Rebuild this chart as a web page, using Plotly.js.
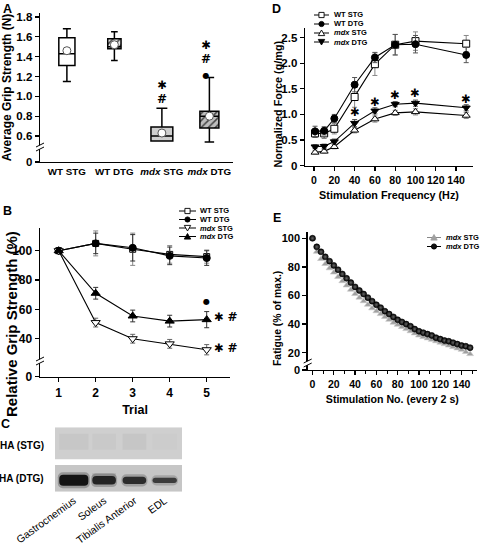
<!DOCTYPE html>
<html><head><meta charset="utf-8">
<script src="https://cdn.plot.ly/plotly-3.0.1.min.js"></script>
<style>html,body{margin:0;padding:0;background:#fff}#chart{width:480px;height:547px}</style>
</head><body><div id="chart"></div>
<script>
// ---------------- DATA ----------------
// Panel A: grip strength box plots (N)
const aGroups = ['WT STG', 'WT DTG', 'mdx STG', 'mdx DTG'];
const aGroupLabels = ['WT STG', 'WT DTG', '<i>mdx</i> STG', '<i>mdx</i> DTG'];
const aLower = [1.15, 1.36, 0.55, 0.54];
const aQ1 = [1.31, 1.48, 0.55, 0.68];
const aMedian = [1.43, 1.50, 0.60, 0.80];
const aQ3 = [1.59, 1.58, 0.69, 0.85];
const aUpper = [1.68, 1.65, 0.88, 1.19];
const aMean = [1.46, 1.52, 0.63, 0.80];
const aYTicks = [0.6, 0.8, 1.0, 1.2, 1.4, 1.6, 1.8];

// Panel B: relative grip strength (%) over trials
const bTrials = [1, 2, 3, 4, 5];
const bWtStg = [100, 105, 101, 97.5, 96];
const bWtStgErr = [0, 8.5, 11, 6, 4.5];
const bWtDtg = [100, 105, 102, 96.5, 95];
const bWtDtgErr = [0, 7, 9, 6, 5];
const bMdxStg = [100, 51, 40, 36.5, 32.5];
const bMdxStgErr = [0, 3, 3, 3, 3.5];
const bMdxDtg = [100, 71, 55.5, 52, 53];
const bMdxDtgErr = [0, 4, 4, 4, 5.5];
const bYTicks = [40, 60, 80, 100];

// Panel C: western blot lanes (relative band intensity)
const cLanes = ['Gastrocnemius', 'Soleus', 'Tibialis Anterior', 'EDL'];
const cDtgBand = [1.0, 0.78, 0.66, 0.47];
const cDtgSmear = [0.1, 0.5, 0.15, 0.05];
const cStgBand = [0.06, 0.04, 0.07, 0.02];

// Panel D: force-frequency
const dFreq = [1, 10, 20, 40, 60, 80, 100, 150];
const dWtStg = [0.63, 0.63, 0.72, 1.34, 1.98, 2.36, 2.43, 2.38];
const dWtStgErr = [0.08, 0.1, 0.1, 0.2, 0.22, 0.2, 0.18, 0.16];
const dWtDtg = [0.67, 0.68, 0.92, 1.58, 2.11, 2.36, 2.37, 2.16];
const dWtDtgErr = [0.1, 0.08, 0.08, 0.14, 0.1, 0.2, 0.17, 0.15];
const dMdxStg = [0.26, 0.28, 0.37, 0.69, 0.91, 1.03, 1.05, 0.98];
const dMdxStgErr = [0.03, 0.03, 0.04, 0.05, 0.06, 0.05, 0.06, 0.06];
const dMdxDtg = [0.37, 0.38, 0.47, 0.83, 1.07, 1.20, 1.22, 1.13];
const dMdxDtgErr = [0.04, 0.04, 0.05, 0.07, 0.06, 0.05, 0.06, 0.06];
const dSigFreq = [40, 60, 80, 100, 150];
const dSigY = [1.05, 1.25, 1.38, 1.41, 1.30];
const dYTicks = [0, 0.5, 1.0, 1.5, 2.0, 2.5];
const dXTicks = [0, 20, 40, 60, 80, 100, 120, 140];

// Panel E: fatigue
const eStim = [0,4,8,12,16,20,24,28,32,36,40,44,48,52,56,60,64,68,72,76,80,84,88,92,96,100,104,108,112,116,120,124,128,132,136,140,144,148];
const eMdxDtg = [100,94,90.5,87,84,81,78,75,72,69,66,63.5,61,58.5,56,53.5,51.5,49,47,45,43,41.5,40,38.5,36.5,35,34,33,32,30.5,29.5,28.5,28,27,26,25,24.5,23.5];
const eMdxStg = [100,90.5,85.5,82,79,76,73,70,67,64,61,58.5,56,53.5,51,49,47,45,43,41,39.5,38,36.5,35,33.5,32,31,30,29,28,27,26,25,24,23,22,20.5,19];
const eYTicks = [20, 40, 60, 80, 100];
const eXTicks = [0, 20, 40, 60, 80, 100, 120, 140];

// ---------------- STYLE / LAYOUT ----------------
const W = 480, H = 547;
const px = v => v / W;
const py = v => 1 - v / H;
const FONT = 'Liberation Sans, Arial, Helvetica, sans-serif';
const SYMFONT = 'DejaVu Sans, Liberation Sans, sans-serif';
const BLACK = '#000';

function ax(extra) {
  return Object.assign({
    showgrid: false, zeroline: false, showline: true, linecolor: BLACK, linewidth: 1.4,
    ticks: 'outside', ticklen: 4, tickwidth: 1.3, tickcolor: BLACK, fixedrange: true,
    tickfont: {family: FONT, size: 11.5, weight: 700, color: BLACK}
  }, extra);
}
function ttl(text, size, standoff) {
  return {text: text, font: {family: FONT, size: size, weight: 700, color: BLACK}, standoff: standoff};
}

const A_Y0 = 0.338, B_Y0 = 14.1, E_Y0 = 7.9;

const traces = [];

// ---- Panel A
const BOX_W = [0.34, 0.28, 0.46, 0.40];
const BOX_FILL = ['#ffffff', 'rgba(0,0,0,0)', '#cfcfcf', 'rgba(0,0,0,0)'];
const HATCH_BG = [null, '#e4e4e4', null, '#bdbdbd'];
aGroups.forEach((g, i) => {
  if (HATCH_BG[i]) {
    traces.push({type: 'bar', xaxis: 'x', yaxis: 'y', x: [g], y: [aQ3[i] - aQ1[i]], base: [aQ1[i]],
      width: BOX_W[i], showlegend: false, hoverinfo: 'skip',
      marker: {color: HATCH_BG[i], line: {width: 0},
        pattern: {shape: '/', fgcolor: '#444', bgcolor: HATCH_BG[i], size: 5, solidity: 0.3}}});
  }
  traces.push({type: 'box', xaxis: 'x', yaxis: 'y', x: [g], q1: [aQ1[i]], median: [aMedian[i]], q3: [aQ3[i]],
    lowerfence: [aLower[i]], upperfence: [aUpper[i]], width: BOX_W[i], whiskerwidth: 0.5,
    fillcolor: BOX_FILL[i], line: {color: BLACK, width: 1.5}, boxpoints: false, showlegend: false, hoverinfo: 'skip'});
});
traces.push({type: 'scatter', xaxis: 'x', yaxis: 'y', x: aGroups, y: aMean, mode: 'markers',
  marker: {symbol: 'circle', size: 8, color: '#fff', line: {color: '#555', width: 1}}, showlegend: false, hoverinfo: 'skip'});

// ---- Panel B
function line(xa, ya, x, y, err, sym, fill, size, errColor) {
  return {type: 'scatter', xaxis: xa, yaxis: ya, x: x, y: y, mode: 'lines+markers',
    line: {color: BLACK, width: 1.1},
    marker: {symbol: sym, size: size, color: fill, line: {color: BLACK, width: 1}},
    error_y: {type: 'data', array: err, visible: true, color: errColor, thickness: 1, width: 2.5},
    showlegend: false, hoverinfo: 'skip', cliponaxis: false};
}
traces.push(line('x2', 'y2', bTrials, bWtStg, bWtStgErr, 'square', '#fff', 6, '#888'));
traces.push(line('x2', 'y2', bTrials, bWtDtg, bWtDtgErr, 'circle', BLACK, 7, '#333'));
traces.push(line('x2', 'y2', bTrials, bMdxStg, bMdxStgErr, 'triangle-down', '#fff', 8, '#666'));
traces.push(line('x2', 'y2', bTrials, bMdxDtg, bMdxDtgErr, 'triangle-up', BLACK, 8, '#333'));

// ---- Panel C (blot)
const C_CENTER = 11.4, C_MAXH = 11, BAND_W = [0.96, 0.78, 0.78, 0.8];
traces.push({type: 'bar', xaxis: 'x3', yaxis: 'y3', x: cLanes,
  y: cDtgBand.map(v => v * C_MAXH + 5), base: cDtgBand.map(v => C_CENTER - (v * C_MAXH + 5) / 2),
  width: BAND_W.map(w => w * 1.1), marker: {color: cDtgBand.map(v => 'rgba(60,60,60,' + (0.15 + 0.2 * v) + ')'), line: {width: 0}, cornerradius: 5},
  showlegend: false, hoverinfo: 'skip'});
traces.push({type: 'bar', xaxis: 'x3', yaxis: 'y3', x: cLanes,
  y: cDtgSmear.map(v => v * 8), base: cDtgSmear.map(() => C_CENTER + 3),
  width: BAND_W, marker: {color: cDtgSmear.map(v => 'rgba(70,70,70,' + (0.35 * v) + ')'), line: {width: 0}},
  showlegend: false, hoverinfo: 'skip'});
traces.push({type: 'bar', xaxis: 'x3', yaxis: 'y3', x: cLanes,
  y: cDtgBand.map(v => v * C_MAXH), base: cDtgBand.map(v => C_CENTER - v * C_MAXH / 2),
  width: BAND_W, marker: {color: cDtgBand.map(v => 'rgba(20,20,20,' + (0.5 + 0.5 * v) + ')'), line: {width: 0}, cornerradius: 4},
  showlegend: false, hoverinfo: 'skip'});
traces.push({type: 'bar', xaxis: 'x3', yaxis: 'y3', x: cLanes,
  y: cStgBand.map(() => 16), base: cStgBand.map(() => 42),
  width: BAND_W, marker: {color: cStgBand.map(v => 'rgba(80,80,80,' + v + ')'), line: {width: 0}},
  showlegend: false, hoverinfo: 'skip'});

// ---- Panel D
traces.push(line('x4', 'y4', dFreq, dWtStg, dWtStgErr, 'square', '#fff', 7, '#888'));
traces.push(line('x4', 'y4', dFreq, dWtDtg, dWtDtgErr, 'circle', BLACK, 7, '#555'));
traces.push(line('x4', 'y4', dFreq, dMdxStg, dMdxStgErr, 'triangle-up', '#fff', 7, '#888'));
traces.push(line('x4', 'y4', dFreq, dMdxDtg, dMdxDtgErr, 'triangle-down', BLACK, 7, '#555'));

// ---- Panel E
traces.push({type: 'scatter', xaxis: 'x5', yaxis: 'y5', x: eStim, y: eMdxStg, mode: 'markers',
  marker: {symbol: 'triangle-up', size: 6, color: '#a0a0a0', line: {color: '#c8c8c8', width: 0.6}},
  showlegend: false, hoverinfo: 'skip', cliponaxis: false});
traces.push({type: 'scatter', xaxis: 'x5', yaxis: 'y5', x: eStim, y: eMdxDtg, mode: 'markers',
  marker: {symbol: 'circle', size: 6, color: '#000', gradient: {type: 'radial', color: '#666'}, line: {color: '#000', width: 0.6}},
  showlegend: false, hoverinfo: 'skip', cliponaxis: false});

// ---------------- SHAPES ----------------
const shapes = [];
function pline(x0, y0, x1, y1, color, width) {
  shapes.push({type: 'line', xref: 'paper', yref: 'paper', x0: px(x0), y0: py(y0), x1: px(x1), y1: py(y1),
    line: {color: color || BLACK, width: width || 1.1}});
}
function brk(x, yc) {
  shapes.push({type: 'path', xref: 'paper', yref: 'paper', fillcolor: '#fff', line: {width: 0},
    path: `M${px(x - 4)},${py(yc + 1)} L${px(x + 4)},${py(yc - 3)} L${px(x + 4)},${py(yc + 1)} L${px(x - 4)},${py(yc + 5)} Z`});
  pline(x - 4, yc + 1, x + 4, yc - 3, BLACK, 1);
  pline(x - 4, yc + 5, x + 4, yc + 1, BLACK, 1);
}
brk(40, 146); brk(40, 360); brk(307.7, 362);

// blot backgrounds
shapes.push({type: 'rect', xref: 'x3 domain', yref: 'y3', x0: 0, x1: 1, y0: 32.4, y1: 64.4, fillcolor: '#cfcfcf', line: {width: 0}, layer: 'below'});
shapes.push({type: 'rect', xref: 'x3 domain', yref: 'y3', x0: 0, x1: 1, y0: 0, y1: 26.7, fillcolor: '#c6c6c6', line: {width: 0}, layer: 'below'});

// manual compact legends
function lmark(sym, x, y, fill, stroke) {
  const s = 2.6;
  let sh;
  if (sym === 'square') sh = {type: 'rect', x0: px(x - s), x1: px(x + s), y0: py(y - s), y1: py(y + s)};
  else if (sym === 'circle') sh = {type: 'circle', x0: px(x - s), x1: px(x + s), y0: py(y - s), y1: py(y + s)};
  else if (sym === 'tri-up') sh = {type: 'path', path: `M${px(x - 3.2)},${py(y + 2.6)} L${px(x + 3.2)},${py(y + 2.6)} L${px(x)},${py(y - 3)} Z`};
  else sh = {type: 'path', path: `M${px(x - 3.2)},${py(y - 2.6)} L${px(x + 3.2)},${py(y - 2.6)} L${px(x)},${py(y + 3)} Z`};
  Object.assign(sh, {xref: 'paper', yref: 'paper', fillcolor: fill, line: {color: stroke || BLACK, width: 0.9}});
  shapes.push(sh);
}
const annotations = [];
function ltext(x, y, text, size) {
  annotations.push({xref: 'paper', yref: 'paper', x: px(x), y: py(y), xanchor: 'left', yanchor: 'middle',
    text: text, showarrow: false, font: {family: FONT, size: size, weight: 700, color: BLACK}});
}
function legendItem(x0, x1, y, sym, fill, tx, text, size, lcolor, stroke) {
  pline(x0, y, x1, y, lcolor || BLACK, 1);
  lmark(sym, (x0 + x1) / 2, y, fill, stroke);
  ltext(tx, y, text, size);
}
// Legend B
legendItem(179, 196, 211, 'square', '#fff', 198, 'WT STG', 7.5);
legendItem(179, 196, 219.5, 'circle', BLACK, 198, 'WT DTG', 7.5);
legendItem(179, 196, 228, 'tri-down', '#fff', 198, '<i>mdx</i> STG', 7.5);
legendItem(179, 196, 236.5, 'tri-up', BLACK, 198, '<i>mdx</i> DTG', 7.5);
// Legend D
legendItem(314, 329, 15, 'square', '#fff', 331.5, 'WT STG', 7.5);
legendItem(314, 329, 24, 'circle', BLACK, 331.5, 'WT DTG', 7.5);
legendItem(314, 329, 33, 'tri-up', '#fff', 331.5, '<i>mdx</i> STG', 7.5);
legendItem(314, 329, 42, 'tri-down', BLACK, 331.5, '<i>mdx</i> DTG', 7.5);
// Legend E
legendItem(427, 441, 237.5, 'tri-up', '#a0a0a0', 443.5, '<i>mdx</i> STG', 7.5, '#888', '#a0a0a0');
legendItem(427, 441, 246.5, 'circle', '#111', 443.5, '<i>mdx</i> DTG', 7.5);

// ---------------- ANNOTATIONS ----------------
function ann(xref, yref, x, y, text, size, opts) {
  annotations.push(Object.assign({xref: xref, yref: yref, x: x, y: y, text: text, showarrow: false,
    xanchor: 'center', yanchor: 'middle', font: {family: FONT, size: size, weight: 700, color: BLACK}}, opts || {}));
}
const SYM = {font: {family: SYMFONT, size: 11, weight: 700, color: BLACK}};
const S_STAR = '<span style="font-size:11.5px">✱</span>';
const S_HASH = '<span style="font-size:12px">#</span>';
const S_DOT = '<span style="font-size:8px">●</span>';
// panel letters
ann('paper', 'paper', px(7.5), 1, 'A', 12.5, {yanchor: 'top'});
ann('paper', 'paper', px(7), py(211), 'B', 12.5);
ann('paper', 'paper', px(5.5), py(424), 'C', 12.5);
ann('paper', 'paper', px(276), 1, 'D', 12.5, {yanchor: 'top'});
ann('paper', 'paper', px(276.5), py(217.5), 'E', 12.5);
// y-axis titles placed like the original (offset from axis centre)
ann('paper', 'paper', px(11), py(324), 'Relative Grip Strength (%)', 15, {textangle: -90});
ann('paper', 'paper', px(277), py(104.5), 'Normalized Force (g/mg)', 10.8, {textangle: -90});
ann('paper', 'paper', px(277.5), py(318.5), 'Fatigue (% of max.)', 10.4, {textangle: -90});
// panel A significance stacks
ann('x', 'y', 'mdx STG', 1.047, S_STAR + '<br>' + S_HASH, 11, SYM);
ann('x', 'y', 'mdx DTG', 1.38, S_STAR + '<br>' + S_HASH + '<br>' + S_DOT, 11, Object.assign({xshift: -3}, SYM));
// panel B significance
ann('x2', 'y2', 5, 65.2, S_DOT, 11, SYM);
ann('x2', 'y2', 5.13, 55, S_STAR + ' ' + S_HASH, 11, Object.assign({xanchor: 'left'}, SYM));
ann('x2', 'y2', 5.13, 33.9, S_STAR + ' ' + S_HASH, 11, Object.assign({xanchor: 'left'}, SYM));
// panel D significance
dSigFreq.forEach((f, i) => ann('x4', 'y4', f, dSigY[i], S_STAR, 11, SYM));
// panel C row labels
ann('paper', 'paper', px(46), py(445), 'HA (STG)', 10, {xanchor: 'right'});
ann('paper', 'paper', px(46), py(478.5), 'HA (DTG)', 10, {xanchor: 'right'});

// ---------------- LAYOUT ----------------
const layout = {
  width: W, height: H, margin: {l: 0, r: 0, t: 0, b: 0},
  paper_bgcolor: '#fff', plot_bgcolor: 'rgba(0,0,0,0)', showlegend: false,
  boxmode: 'overlay', barmode: 'overlay', font: {family: FONT, color: BLACK},
  // A
  xaxis: ax({domain: [px(40), px(233)], anchor: 'y', type: 'category', categoryarray: aGroups,
    tickvals: aGroups, ticktext: aGroupLabels, range: [-0.566, 3.497], ticks: '', tickangle: 0,
    tickfont: {family: FONT, size: 9.8, weight: 700, color: BLACK}}),
  yaxis: ax({domain: [py(162), py(13)], anchor: 'x', range: [A_Y0, 1.84],
    tickvals: [A_Y0].concat(aYTicks), ticktext: ['0'].concat(aYTicks.map(v => v.toFixed(1))),
    title: ttl('Average Grip Strength (N)', 12, 4)}),
  // B
  xaxis2: ax({domain: [px(40), px(230)], anchor: 'y2', range: [0.495, 5.63], tickvals: bTrials,
    tickfont: {family: FONT, size: 12, weight: 700, color: BLACK}, title: ttl('Trial', 12.5, 6)}),
  yaxis2: ax({domain: [py(376.7), py(228)], anchor: 'x2', range: [B_Y0, 115.5],
    tickvals: [B_Y0].concat(bYTicks), ticktext: ['0'].concat(bYTicks.map(String)),
    tickfont: {family: FONT, size: 12, weight: 700, color: BLACK}}),
  // C
  xaxis3: {domain: [px(55), px(182)], anchor: 'y3', type: 'category', categoryarray: cLanes, range: [-0.62, 3.57],
    showline: false, showgrid: false, zeroline: false, ticks: '', tickangle: -36, fixedrange: true,
    tickfont: {family: FONT, size: 10.5, color: BLACK}},
  yaxis3: {domain: [py(491.7), py(427.3)], anchor: 'x3', range: [0, 64.4], visible: false, fixedrange: true},
  // D
  xaxis4: ax({domain: [px(305), px(473)], anchor: 'y4', range: [-8.9, 156.7], tickvals: dXTicks,
    tickfont: {family: FONT, size: 10.5, weight: 700, color: BLACK},
    title: ttl('Stimulation Frequency (Hz)', 10.8, 6)}),
  yaxis4: ax({domain: [py(165.7), py(28.3)], anchor: 'x4', range: [0, 2.68], tickvals: dYTicks,
    ticktext: dYTicks.map(v => v === 0 ? '0' : v.toFixed(1))}),
  // E
  xaxis5: ax({domain: [px(307.7), px(477)], anchor: 'y5', range: [-4.5, 154.5], tickvals: eXTicks,
    minor: {ticks: 'outside', ticklen: 2.5, tickwidth: 1, tickcolor: BLACK, dtick: 10, tick0: 0, showgrid: false},
    tickfont: {family: FONT, size: 10.5, weight: 700, color: BLACK},
    title: ttl('Stimulation No. (every 2 s)', 10.6, 6)}),
  yaxis5: ax({domain: [py(370), py(231.7)], anchor: 'x5', range: [E_Y0, 104.6],
    tickvals: [E_Y0].concat(eYTicks), ticktext: ['0'].concat(eYTicks.map(String)),
    tickfont: {family: FONT, size: 11, weight: 700, color: BLACK}}),
  shapes: shapes,
  annotations: annotations
};

Plotly.newPlot('chart', traces, layout, {staticPlot: true, displayModeBar: false});
</script>
</body></html>
